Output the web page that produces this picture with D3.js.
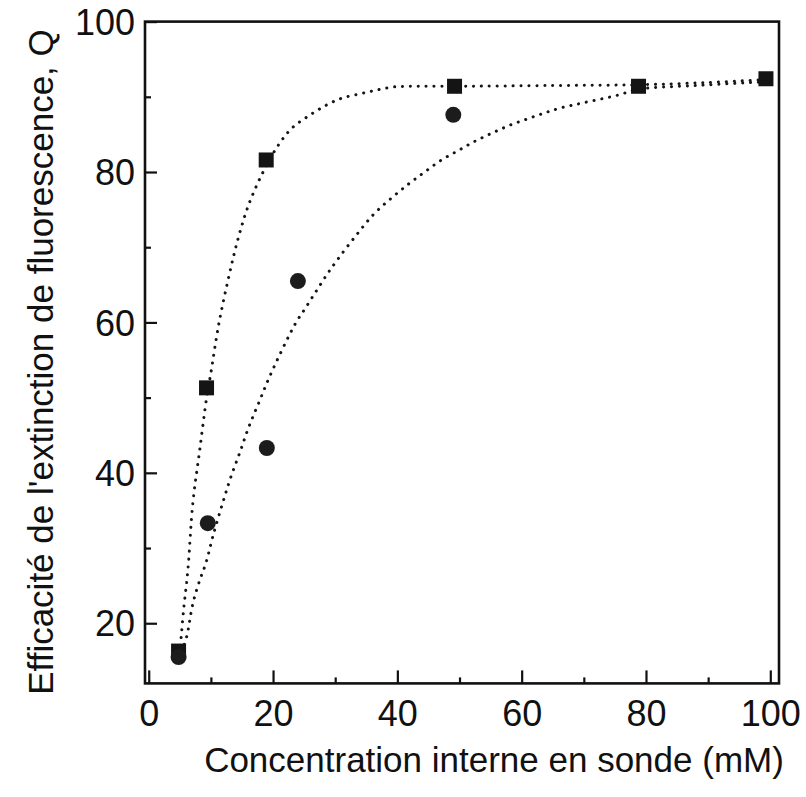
<!DOCTYPE html>
<html>
<head>
<meta charset="utf-8">
<script src="https://cdn.jsdelivr.net/npm/d3@7"></script>
<style>
  body { margin: 0; background: #fff; }
  svg text { font-family: "Liberation Sans", Arial, Helvetica, sans-serif; fill: #111; }
</style>
</head>
<body>
<div id="chart"></div>
<script>
// Marker data
const squareX = [4.8, 9.3, 18.9, 49.2, 78.8, 99.3];
const squareY = [16.3, 51.3, 81.6, 91.4, 91.4, 92.4];
const circleX = [4.8, 9.5, 19.0, 24.0, 49.0];
const circleY = [15.5, 33.3, 43.3, 65.5, 87.6];

// Dotted fit curves
const fastCurveX = [5.0, 5.6, 6.3, 7.1, 8.2, 9.3, 10.0, 11.3, 13.0, 14.4, 16.1, 18.4, 20.8, 23.0, 25.8, 28.6, 31.0, 34.0, 36.7, 39.3, 42.0, 49.3, 65.0, 78.8, 90.0, 99.3];
const fastCurveY = [16.0, 21.7, 27.1, 36.0, 43.0, 49.9, 53.3, 59.9, 66.5, 71.2, 75.7, 80.0, 83.5, 85.8, 87.5, 88.9, 89.8, 90.4, 90.9, 91.3, 91.4, 91.4, 91.5, 91.6, 91.9, 92.3];
const slowCurveX = [5.3, 6.1, 7.1, 8.2, 9.2, 10.3, 11.9, 13.2, 14.7, 16.1, 17.8, 19.5, 23.5, 25.2, 26.9, 28.7, 30.6, 33.3, 36.1, 39.0, 41.8, 44.4, 47.1, 49.9, 52.5, 55.3, 58.0, 60.7, 63.5, 66.2, 69.9, 75.4, 78.8, 88.0, 99.3];
const slowCurveY = [16.2, 18.2, 22.6, 25.7, 28.0, 31.5, 36.0, 39.4, 42.8, 46.1, 49.5, 52.9, 59.7, 61.9, 64.1, 66.4, 68.6, 71.5, 74.3, 76.5, 78.4, 80.0, 81.6, 82.9, 84.1, 85.2, 86.2, 87.0, 87.8, 88.5, 89.2, 90.2, 91.0, 91.5, 92.0];

// Ticks
const xMajorTicks = [0, 20, 40, 60, 80, 100];
const xMinorTicks = [10, 30, 50, 70, 90];
const yMajorTicks = [20, 40, 60, 80, 100];
const yMinorTicks = [30, 50, 70, 90];

const xTitle = "Concentration interne en sonde (mM)";
const yTitle = "Efficacité de l'extinction de fluorescence, Q";

const W = 806, H = 797;
const plot = {left: 145, right: 779, top: 21.6, bottom: 683.4};

const svg = d3.select("#chart").append("svg")
    .attr("width", W)
    .attr("height", H);

const x = d3.scaleLinear().domain([-0.6, 101.4]).range([plot.left, plot.right]);
const y = d3.scaleLinear().domain([12, 100]).range([plot.bottom, plot.top]);

// Curves
const line = d3.line()
    .x(d => x(d[0]))
    .y(d => y(d[1]))
    .curve(d3.curveCatmullRom.alpha(0.5));

const curves = [
    d3.zip(fastCurveX, fastCurveY),
    d3.zip(slowCurveX, slowCurveY)
];

svg.append("g").selectAll("path")
    .data(curves)
    .join("path")
    .attr("d", line)
    .attr("fill", "none")
    .attr("stroke", "#151515")
    .attr("stroke-width", 3)
    .attr("stroke-linecap", "round")
    .attr("stroke-dasharray", "0.1 7.8");

// Axes (ticks inward)
const xAxisMajor = d3.axisBottom(x).tickValues(xMajorTicks).tickSize(-13).tickFormat(d3.format("d"));
const xAxisMinor = d3.axisBottom(x).tickValues(xMinorTicks).tickSize(-6).tickFormat("");
const yAxisMajor = d3.axisLeft(y).tickValues(yMajorTicks).tickSize(-12).tickFormat(d3.format("d"));
const yAxisMinor = d3.axisLeft(y).tickValues(yMinorTicks).tickSize(-6).tickFormat("");

function styleAxis(g) {
    g.select(".domain").remove();
    g.selectAll(".tick line").attr("stroke", "#111").attr("stroke-width", 2.2);
    g.selectAll(".tick text").attr("font-size", 36).attr("fill", "#111");
}

svg.append("g")
    .attr("transform", `translate(0,${plot.bottom})`)
    .call(xAxisMajor)
    .call(styleAxis)
    .call(g => g.selectAll(".tick text").attr("y", 17).attr("dy", "0.71em"));

svg.append("g")
    .attr("transform", `translate(0,${plot.bottom})`)
    .call(xAxisMinor)
    .call(styleAxis);

svg.append("g")
    .attr("transform", `translate(${plot.left},0)`)
    .call(yAxisMajor)
    .call(styleAxis)
    .call(g => g.selectAll(".tick text").attr("x", -10).attr("dy", "0.35em"));

svg.append("g")
    .attr("transform", `translate(${plot.left},0)`)
    .call(yAxisMinor)
    .call(styleAxis);

// Frame
svg.append("rect")
    .attr("x", plot.left)
    .attr("y", plot.top)
    .attr("width", plot.right - plot.left)
    .attr("height", plot.bottom - plot.top)
    .attr("fill", "none")
    .attr("stroke", "#111")
    .attr("stroke-width", 2.6);

// Markers
svg.append("g").selectAll("rect")
    .data(d3.zip(squareX, squareY))
    .join("rect")
    .attr("x", d => x(d[0]) - 7.5)
    .attr("y", d => y(d[1]) - 7.5)
    .attr("width", 15)
    .attr("height", 15)
    .attr("fill", "#141414");

svg.append("g").selectAll("circle")
    .data(d3.zip(circleX, circleY))
    .join("circle")
    .attr("cx", d => x(d[0]))
    .attr("cy", d => y(d[1]))
    .attr("r", 8)
    .attr("fill", "#1c1c1c");

// Titles
svg.append("text")
    .attr("x", 494)
    .attr("y", 772)
    .attr("text-anchor", "middle")
    .attr("font-size", 35)
    .text(xTitle);

svg.append("text")
    .attr("transform", "translate(53,362) rotate(-90)")
    .attr("text-anchor", "middle")
    .attr("font-size", 35)
    .text(yTitle);
</script>
</body>
</html>
